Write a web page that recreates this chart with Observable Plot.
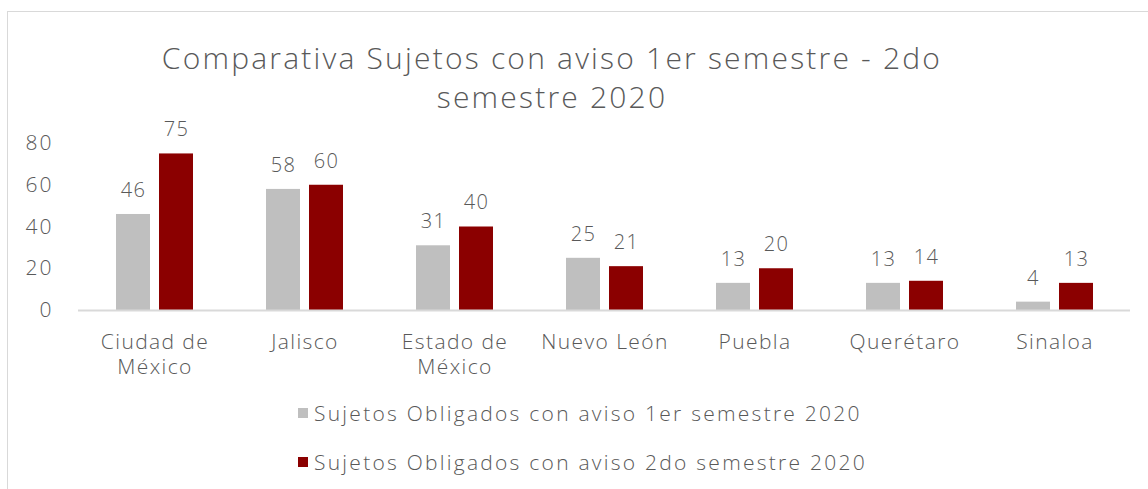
<!DOCTYPE html>
<html>
<head>
<meta charset="utf-8">
<script src="https://cdn.jsdelivr.net/npm/d3@7"></script>
<script src="https://cdn.jsdelivr.net/npm/@observablehq/plot@0.6"></script>
<style>
  body { margin: 0; background: #fff; font-family: "Open Sans", sans-serif; font-weight: 300; color: #595959; }
  #frame { position: absolute; left: 7px; top: 11px; width: 1300px; height: 700px; border-left: 1px solid #d9d9d9; border-top: 1px solid #d9d9d9; }
  #title { position: absolute; left: 0; top: 38px; width: 1104px; text-align: center; font-size: 30px; line-height: 39px; letter-spacing: 2.2px; }
  #chart { position: absolute; left: 0; top: 115px; }
  #chart svg text { font-weight: 300; }
  #chart g[aria-label="y-axis tick label"] text { letter-spacing: 2px; }
  #legend { position: absolute; left: 298px; top: 400px; font-size: 21px; letter-spacing: 2.25px; }
  .item { display: flex; align-items: center; height: 26px; margin-bottom: 23px; white-space: nowrap; }
  .sw { width: 10px; height: 10px; margin-right: 6px; }
</style>
</head>
<body>
<div id="frame"></div>
<div id="title">Comparativa Sujetos con aviso 1er semestre - 2do<br>semestre 2020</div>
<div id="chart"></div>
<div id="legend"></div>
<script>
const categories = ["Ciudad de México", "Jalisco", "Estado de México", "Nuevo León", "Puebla", "Querétaro", "Sinaloa"];
const categoryLabels = ["Ciudad de\nMéxico", "Jalisco", "Estado de\nMéxico", "Nuevo León", "Puebla", "Querétaro", "Sinaloa"];
const seriesNames = ["Sujetos Obligados con aviso 1er semestre 2020", "Sujetos Obligados con aviso 2do semestre 2020"];
const firstSemester = [46, 58, 31, 25, 13, 13, 4];
const secondSemester = [75, 60, 40, 21, 20, 14, 13];
const yTicks = [0, 20, 40, 60, 80];
const colors = ["#bfbfbf", "#8b0000"];

const s1 = categories.map((c, i) => ({cat: c, series: seriesNames[0], value: firstSemester[i]}));
const s2 = categories.map((c, i) => ({cat: c, series: seriesNames[1], value: secondSemester[i]}));
const labelOf = new Map(categories.map((c, i) => [c, categoryLabels[i]]));

const barW = 33, gap = 10;
const halfOff = (barW + gap) / 2;

const chart = Plot.plot({
  width: 1148,
  height: 270,
  marginLeft: 78,
  marginRight: 18,
  marginTop: 28,
  marginBottom: 75,
  style: {fontFamily: "Open Sans", fontSize: "21px", color: "#595959", background: "transparent"},
  x: {domain: categories, paddingInner: 0.49, paddingOuter: 0.245, axis: null},
  y: {domain: [0, 80], ticks: yTicks, tickSize: 0, tickPadding: 25, label: null},
  marks: [
    Plot.barY(s1, {x: "cat", y: "value", fill: colors[0], insetRight: barW + gap}),
    Plot.barY(s2, {x: "cat", y: "value", fill: colors[1], insetLeft: barW + gap}),
    Plot.ruleY([0], {stroke: "#d9d9d9", strokeWidth: 2}),
    Plot.text(s1, {x: "cat", y: "value", text: d => String(d.value), dx: -halfOff, dy: -24, lineAnchor: "middle", fill: "#595959", fontSize: 20}),
    Plot.text(s2, {x: "cat", y: "value", text: d => String(d.value), dx: halfOff, dy: -24, lineAnchor: "middle", fill: "#595959", fontSize: 20}),
    Plot.text(categories, {x: d => d, frameAnchor: "bottom", text: d => labelOf.get(d), dy: 20, lineAnchor: "top", lineHeight: 1.22, fill: "#595959", fontSize: 21})
  ]
});
chart.querySelectorAll('g[aria-label="text"] text').forEach(t => t.style.letterSpacing = "1.4px");
document.getElementById("chart").appendChild(chart);

const legend = document.getElementById("legend");
seriesNames.forEach((name, i) => {
  const row = document.createElement("div");
  row.className = "item";
  const sw = document.createElement("span");
  sw.className = "sw";
  sw.style.background = colors[i];
  const t = document.createElement("span");
  t.textContent = name;
  row.appendChild(sw);
  row.appendChild(t);
  legend.appendChild(row);
});
</script>
</body>
</html>
